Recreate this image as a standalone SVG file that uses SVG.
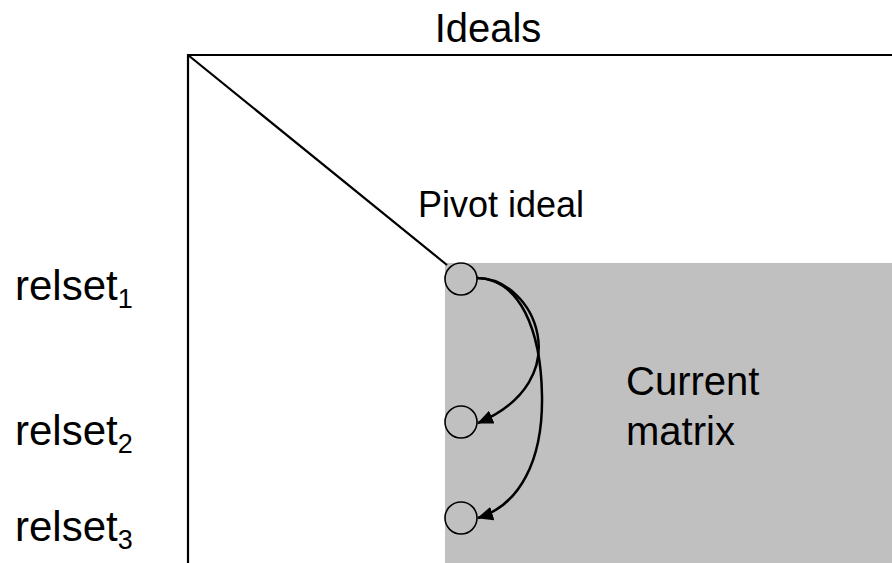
<svg xmlns="http://www.w3.org/2000/svg" width="892" height="563" viewBox="0 0 892 563">
  <style>
    .t { font-family: "Liberation Sans", Arial, sans-serif; font-size: 40px; fill: #000; }
    .row { font-size: 42px; }
    .frame { stroke: #000; stroke-width: 2.2; fill: none; }
    .node { fill: #c0c0c0; stroke: #000; stroke-width: 1.6; }
    .arc { fill: none; stroke: #000; stroke-width: 2.5; marker-end: url(#head); }
  </style>
  <defs>
    <marker id="head" markerWidth="16" markerHeight="14" refX="15" refY="7" orient="auto" markerUnits="userSpaceOnUse">
      <path d="M0,0 L16,7 L0,14 Z" fill="#000"/>
    </marker>
  </defs>

  <rect width="892" height="563" fill="#fff"/>

  <!-- remaining matrix block -->
  <rect id="current-matrix" x="445" y="263" width="447" height="300" fill="#c0c0c0"/>

  <!-- matrix frame and diagonal -->
  <g id="frame">
    <polyline class="frame" points="892,55 188,55 188,563"/>
    <line class="frame" x1="188" y1="55" x2="447" y2="265"/>
  </g>

  <!-- labels -->
  <text class="t" x="488" y="42" text-anchor="middle">Ideals</text>
  <text class="t" x="418" y="217" style="font-size:36px">Pivot ideal</text>
  <text class="t" x="626" y="395">Current</text>
  <text class="t" x="626" y="445">matrix</text>
  <text class="t row" x="15" y="300">relset<tspan font-size="27" dy="8">1</tspan></text>
  <text class="t row" x="15" y="445">relset<tspan font-size="27" dy="8">2</tspan></text>
  <text class="t row" x="15" y="541">relset<tspan font-size="27" dy="8">3</tspan></text>

  <!-- connectors -->
  <g id="connectors">
    <path class="arc" d="M477,278 C535,278 580,380 478,423"/>
    <path class="arc" d="M477,278 C520,279 541,330 542,396 C543,460 520,505 478,518"/>
  </g>

  <!-- relation-set nodes -->
  <g id="n1"><circle class="node" cx="461" cy="279" r="16"/></g>
  <g id="n2"><circle class="node" cx="461" cy="422" r="16"/></g>
  <g id="n3"><circle class="node" cx="461" cy="518" r="16"/></g>
</svg>
